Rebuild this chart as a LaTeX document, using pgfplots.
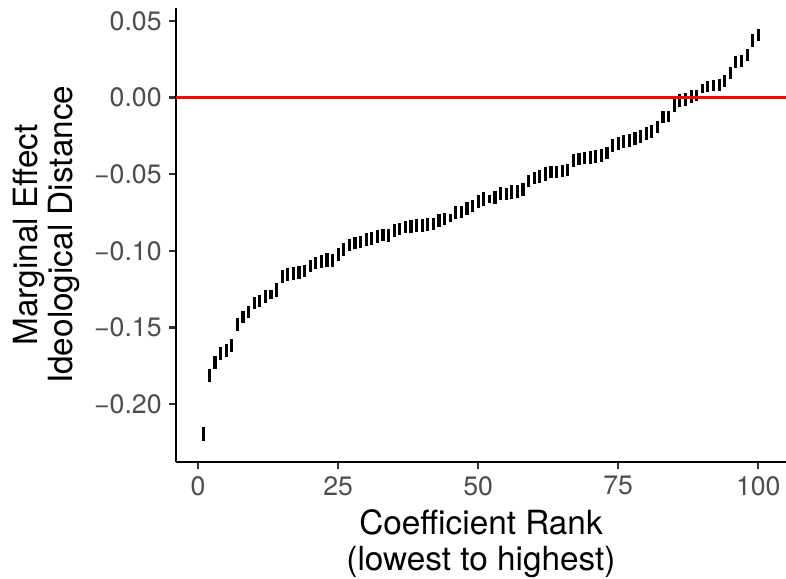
\documentclass[border=0pt]{standalone}
\usepackage{fontspec}
\setmainfont{TeX Gyre Heros}
\usepackage{pgfplots}
\pgfplotsset{compat=1.18}
\usepackage{pgfplotstable}
\definecolor{tickgray}{HTML}{4D4D4D}
\definecolor{axgray}{HTML}{333333}

% rank, estimate, half-width of interval
\pgfplotstableread{
r m e
1 -0.2195 0.0045
2 -0.1812 0.0042
3 -0.1727 0.0042
4 -0.1669 0.0040
5 -0.1649 0.0042
6 -0.1617 0.0042
7 -0.1481 0.0042
8 -0.1429 0.0040
9 -0.1396 0.0040
10 -0.1338 0.0040
11 -0.1325 0.0040
12 -0.1295 0.0042
13 -0.1286 0.0030
14 -0.1253 0.0045
15 -0.1166 0.0042
16 -0.1153 0.0042
17 -0.1146 0.0042
18 -0.1143 0.0042
19 -0.1130 0.0040
20 -0.1097 0.0040
21 -0.1078 0.0040
22 -0.1071 0.0042
23 -0.1058 0.0045
24 -0.1062 0.0045
25 -0.1023 0.0040
26 -0.0990 0.0040
27 -0.0961 0.0040
28 -0.0948 0.0040
29 -0.0942 0.0040
30 -0.0925 0.0042
31 -0.0919 0.0042
32 -0.0906 0.0042
33 -0.0896 0.0040
34 -0.0899 0.0040
35 -0.0864 0.0042
36 -0.0857 0.0042
37 -0.0844 0.0042
38 -0.0838 0.0042
39 -0.0834 0.0040
40 -0.0834 0.0040
41 -0.0825 0.0042
42 -0.0825 0.0038
43 -0.0799 0.0042
44 -0.0792 0.0042
45 -0.0786 0.0028
46 -0.0747 0.0042
47 -0.0747 0.0040
48 -0.0721 0.0042
49 -0.0705 0.0040
50 -0.0679 0.0042
51 -0.0662 0.0044
52 -0.0662 0.0028
53 -0.0653 0.0042
54 -0.0627 0.0042
55 -0.0627 0.0040
56 -0.0617 0.0045
57 -0.0615 0.0042
58 -0.0600 0.0042
59 -0.0545 0.0040
60 -0.0526 0.0038
61 -0.0513 0.0044
62 -0.0500 0.0045
63 -0.0487 0.0040
64 -0.0487 0.0040
65 -0.0481 0.0040
66 -0.0471 0.0038
67 -0.0409 0.0042
68 -0.0399 0.0040
69 -0.0396 0.0040
70 -0.0393 0.0042
71 -0.0383 0.0042
72 -0.0377 0.0042
73 -0.0360 0.0040
74 -0.0312 0.0042
75 -0.0302 0.0042
76 -0.0289 0.0042
77 -0.0279 0.0042
78 -0.0269 0.0042
79 -0.0253 0.0042
80 -0.0234 0.0042
81 -0.0221 0.0040
82 -0.0192 0.0042
83 -0.0127 0.0042
84 -0.0123 0.0038
85 -0.0052 0.0042
86 -0.0019 0.0042
87 -0.0013 0.0040
88 0.0006 0.0042
89 0.0016 0.0036
90 0.0058 0.0028
91 0.0071 0.0034
92 0.0078 0.0038
93 0.0084 0.0040
94 0.0110 0.0040
95 0.0159 0.0038
96 0.0231 0.0040
97 0.0237 0.0040
98 0.0279 0.0040
99 0.0373 0.0040
100 0.0409 0.0040
}\coef

\begin{document}
\begin{tikzpicture}
\begin{axis}[
    name=ax,
    scale only axis, width=292.8pt, height=218pt,
    xmin=-3.95, xmax=104.95, ymin=-0.2375, ymax=0.0586,
    axis x line*=bottom, axis y line*=left,
    axis line style={line width=1.1pt, black},
    xtick={0,25,50,75,100},
    xticklabels={0,25,50,75,100},
    ytick={-0.2,-0.15,-0.1,-0.05,0,0.05},
    yticklabels={−0.20,−0.15,−0.10,−0.05,0.00,0.05},
    tick align=outside, major tick length=3.4pt,
    tick style={axgray, line width=1.1pt},
    tick label style={font=\fontsize{12.8}{14}\selectfont, text=tickgray},
    label style={font=\fontsize{16}{17}\selectfont, align=center},
    xlabel={Coefficient Rank\\(lowest to highest)},
    ylabel={Marginal Effect\\Ideological Distance},
]
\addplot[draw=none, mark=none,
    error bars/.cd, y dir=both, y explicit, error mark=none,
    error bar style={draw=black, solid, line width=1.5pt}]
    table[x=r, y=m, y error=e] {\coef};
\addplot[red, line width=1.2pt] coordinates {(-3.95,0) (104.95,0)};
\end{axis}
\pgfresetboundingbox
\path ([xshift=-84.5pt,yshift=-56.2pt]ax.south west) rectangle ++(377.3pt,277.9pt);
\end{tikzpicture}
\end{document}
